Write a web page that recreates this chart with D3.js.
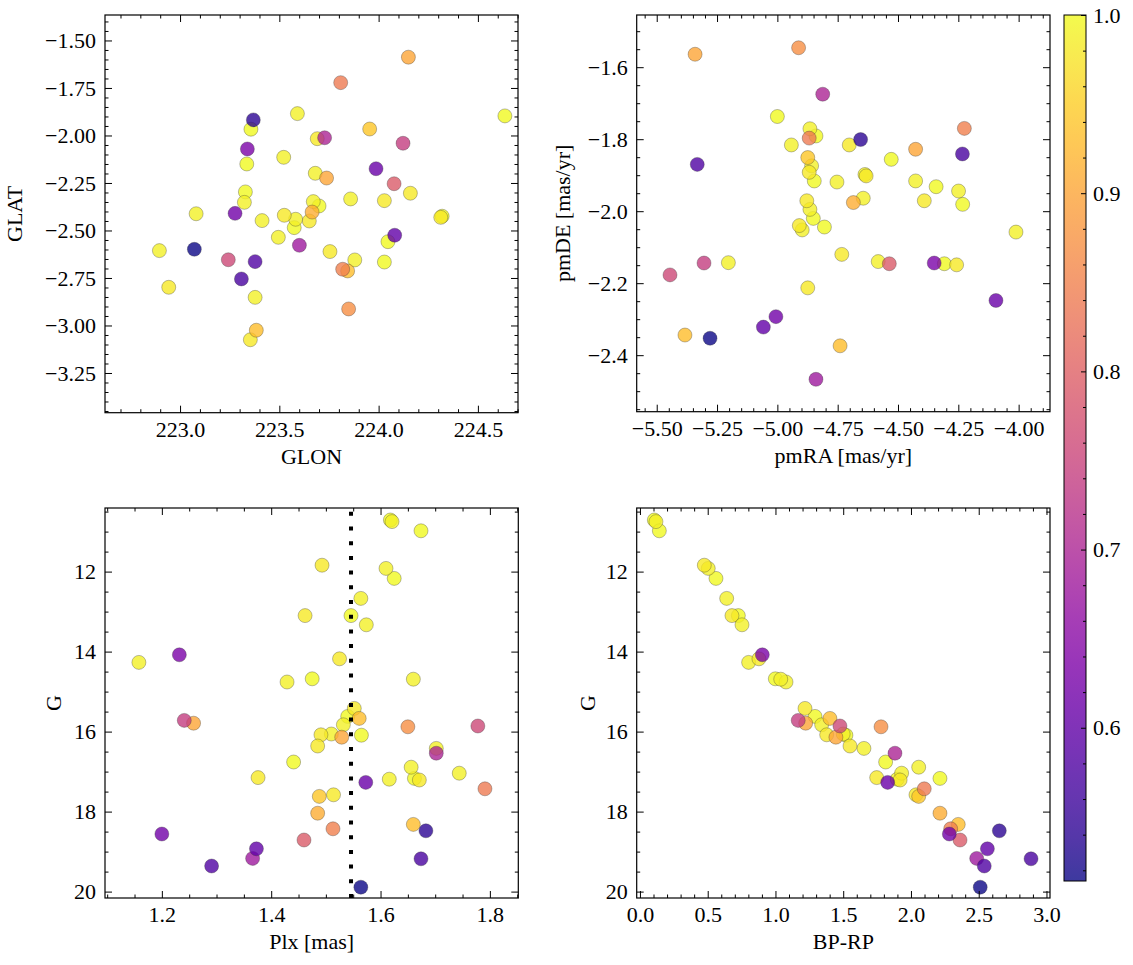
<!DOCTYPE html>
<html><head><meta charset="utf-8">
<script src="https://cdn.jsdelivr.net/npm/d3@7"></script>
<style>
body{margin:0;background:#fff}
text{font-family:"Liberation Serif","Times New Roman",Times,"DejaVu Serif",serif}
</style>
</head><body>
<svg id="c" width="1133" height="965"></svg>
<script>
// ---- data: one entry per star (31 high-probability members first, then the rest) ----
const glon = [223.357,223.591,224.636,223.691,223.522,223.336,223.681,224.160,223.329,223.324,223.859,224.029,223.671,223.700,223.081,224.313,224.320,223.413,223.525,223.582,223.575,223.651,223.495,224.047,222.896,223.755,223.880,224.029,222.943,223.378,223.354,
  223.369,223.072,223.309,223.378,223.339,223.987,223.277,224.081,223.728,223.601,224.123,223.243,224.078,223.809,223.819,223.849,224.150,223.738,223.665,223.384,223.844,223.955];
const glat = [-1.967,-1.885,-1.897,-2.017,-2.115,-2.150,-2.199,-2.304,-2.297,-2.352,-2.334,-2.343,-2.348,-2.371,-2.412,-2.431,-2.425,-2.448,-2.420,-2.441,-2.485,-2.450,-2.536,-2.559,-2.606,-2.611,-2.655,-2.666,-2.799,-2.852,-3.075,
  -1.918,-2.599,-2.755,-2.664,-2.071,-2.175,-2.410,-2.525,-2.012,-2.578,-2.041,-2.654,-2.254,-1.722,-2.704,-2.913,-1.588,-2.224,-2.403,-3.025,-2.713,-1.966];
const pmra = [-5.000,-4.865,-4.840,-4.702,-4.942,-4.528,-4.858,-4.868,-4.847,-4.753,-4.637,-4.632,-4.427,-4.342,-4.249,-4.391,-4.232,-4.644,-4.878,-4.865,-4.851,-4.909,-4.897,-4.805,-4.011,-4.733,-4.582,-4.308,-4.257,-5.203,-4.874,
  -4.655,-5.279,-4.233,-5.332,-4.350,-4.094,-5.006,-5.058,-4.812,-4.840,-5.304,-5.445,-4.536,-4.868,-4.225,-4.912,-5.341,-4.427,-4.685,-5.383,-4.740,-4.874];
const pmde = [-1.737,-1.771,-1.791,-1.816,-1.816,-1.856,-1.874,-1.892,-1.916,-1.919,-1.898,-1.902,-1.916,-1.932,-1.944,-1.971,-1.981,-1.964,-1.971,-1.995,-2.020,-2.040,-2.052,-2.044,-2.058,-2.120,-2.140,-2.146,-2.149,-2.143,-2.213,
  -1.801,-2.353,-1.841,-1.870,-2.144,-2.248,-2.293,-2.322,-1.675,-2.467,-2.144,-2.177,-2.146,-1.797,-1.770,-1.546,-1.564,-1.828,-1.976,-2.344,-2.374,-1.851];
const plx = [1.618,1.621,1.674,1.493,1.610,1.625,1.564,1.462,1.546,1.574,1.158,1.525,1.429,1.475,1.660,1.552,1.540,1.532,1.491,1.510,1.565,1.485,1.702,1.441,1.656,1.376,1.616,1.662,1.671,1.744,1.514,
  1.683,1.564,1.674,1.291,1.232,1.573,1.200,1.373,1.702,1.366,1.241,1.778,1.460,1.791,1.513,1.650,1.258,1.529,1.485,1.561,1.660,1.488];
const gmag = [10.71,10.75,10.98,11.84,11.92,12.17,12.67,13.10,13.10,13.33,14.27,14.18,14.76,14.68,14.69,15.42,15.62,15.83,16.08,16.06,16.09,16.36,16.42,16.76,16.89,17.15,17.19,17.17,17.21,17.04,17.58,
  18.48,19.89,19.18,19.36,14.08,17.27,18.56,18.93,16.54,19.17,15.72,15.86,18.71,17.43,18.43,15.88,15.79,16.14,18.04,15.67,18.32,17.62];
const bprp = [0.106,0.118,0.143,0.475,0.504,0.561,0.640,0.679,0.726,0.753,0.802,0.878,1.078,0.999,1.039,1.218,1.292,1.341,1.378,1.500,1.520,1.550,1.653,1.813,2.057,1.747,1.899,2.214,1.920,1.931,2.037,
  2.652,2.511,2.886,2.541,0.903,1.828,2.283,2.564,1.882,2.485,1.168,1.476,2.362,2.098,2.293,1.779,1.223,1.446,2.214,1.402,2.349,2.057];
const prob = [1.00,0.99,1.00,0.98,0.99,1.00,0.99,0.98,1.00,0.99,0.99,0.98,0.99,1.00,0.99,0.98,1.00,0.99,0.98,0.99,1.00,0.98,0.99,1.00,0.99,0.98,0.99,1.00,0.98,0.99,0.98,
  0.54,0.514,0.57,0.58,0.63,0.61,0.62,0.60,0.70,0.68,0.74,0.76,0.79,0.84,0.85,0.87,0.90,0.90,0.91,0.93,0.93,0.94];
const plxRef = [1.546];

// tick labels
const glonTicks = [223.0,223.5,224.0,224.5];
const glatTicks = [-3.25,-3.0,-2.75,-2.5,-2.25,-2.0,-1.75,-1.5];
const pmraTicks = [-5.5,-5.25,-5.0,-4.75,-4.5,-4.25,-4.0];
const pmdeTicks = [-2.4,-2.2,-2.0,-1.8,-1.6];
const plxTicks = [1.2,1.4,1.6,1.8];
const gTicks = [12,14,16,18,20];
const bprpTicks = [0.0,0.5,1.0,1.5,2.0,2.5,3.0];
const probTicks = [0.6,0.7,0.8,0.9,1.0];

const svg = d3.select("#c");
const FS = 22;
const stars = d3.range(prob.length).sort((a,b)=>prob[b]-prob[a]);
const color = d3.scaleSequential(d3.interpolatePlasma).domain(d3.extent(prob));

function minors(dom, step, majors){
  const lo=Math.min(...dom), hi=Math.max(...dom), out=[];
  for(let k=Math.ceil(lo/step-1e-9); k*step<=hi+1e-9; k++){
    const v=+(k*step).toFixed(6);
    if(!majors.some(m=>Math.abs(m-v)<1e-6)) out.push(v);
  }
  return out;
}

function addAxis(g, axis, tr){
  const a=g.append("g").attr("transform",tr).call(axis);
  a.select(".domain").remove();
  a.attr("font-family",null).attr("font-size",FS);
  a.selectAll("line").attr("stroke","#000").attr("stroke-width",1);
  a.selectAll("text").attr("fill","#000");
  return a;
}

function panel(p){
  const g = svg.append("g");
  const x = d3.scaleLinear().domain(p.xd).range([p.L,p.R]);
  const y = d3.scaleLinear().domain(p.yd).range(p.yr);
  const xMin = minors(p.xd,p.xs,p.xMaj), yMin = minors(p.yd,p.ys,p.yMaj);
  const none = ()=>"";
  g.append("g").selectAll("circle").data(stars).join("circle")
    .attr("cx",i=>x(p.xv[i])).attr("cy",i=>y(p.yv[i])).attr("r",7)
    .attr("fill",i=>color(prob[i])).attr("fill-opacity",0.8)
    .attr("stroke","#333").attr("stroke-opacity",0.55).attr("stroke-width",0.6);
  if(p.extra) p.extra(g,x,y);
  addAxis(g, d3.axisBottom(x).tickValues(p.xMaj).tickFormat(d3.format(p.xf)).tickSizeInner(-7).tickSizeOuter(0).tickPadding(8.5), `translate(0,${p.B})`);
  addAxis(g, d3.axisBottom(x).tickValues(xMin).tickFormat(none).tickSizeInner(-3.5).tickSizeOuter(0), `translate(0,${p.B})`);
  addAxis(g, d3.axisTop(x).tickValues(p.xMaj).tickFormat(none).tickSizeInner(-7).tickSizeOuter(0), `translate(0,${p.T})`);
  addAxis(g, d3.axisTop(x).tickValues(xMin).tickFormat(none).tickSizeInner(-3.5).tickSizeOuter(0), `translate(0,${p.T})`);
  addAxis(g, d3.axisLeft(y).tickValues(p.yMaj).tickFormat(d3.format(p.yf)).tickSizeInner(-7).tickSizeOuter(0).tickPadding(9), `translate(${p.L},0)`);
  addAxis(g, d3.axisLeft(y).tickValues(yMin).tickFormat(none).tickSizeInner(-3.5).tickSizeOuter(0), `translate(${p.L},0)`);
  addAxis(g, d3.axisRight(y).tickValues(p.yMaj).tickFormat(none).tickSizeInner(-7).tickSizeOuter(0), `translate(${p.R},0)`);
  addAxis(g, d3.axisRight(y).tickValues(yMin).tickFormat(none).tickSizeInner(-3.5).tickSizeOuter(0), `translate(${p.R},0)`);
  g.append("rect").attr("x",p.L).attr("y",p.T).attr("width",p.R-p.L).attr("height",p.B-p.T)
    .attr("fill","none").attr("stroke","#000").attr("stroke-width",1.2);
  g.append("text").attr("x",(p.L+p.R)/2).attr("y",p.B+51).attr("text-anchor","middle")
    .attr("font-size",FS).text(p.xl);
  g.append("text").attr("transform",`translate(${p.ylx},${(p.T+p.B)/2}) rotate(-90)`).attr("text-anchor","middle")
    .attr("font-size",FS).text(p.yl);
}

panel({L:105,R:518,T:15,B:412.7,xd:[222.622,224.702],yd:[-3.459,-1.366],yr:[412.7,15],
  xv:glon,yv:glat,xMaj:glonTicks,xs:0.1,yMaj:glatTicks,ys:0.05,xf:".1f",yf:".2f",xl:"GLON",yl:"GLAT",ylx:22});
panel({L:636.7,R:1050,T:15,B:411.7,xd:[-5.583,-3.870],yd:[-2.557,-1.455],yr:[411.7,15],
  xv:pmra,yv:pmde,xMaj:pmraTicks,xs:0.05,yMaj:pmdeTicks,ys:0.05,xf:".2f",yf:".1f",xl:"pmRA [mas/yr]",yl:"pmDE [mas/yr]",ylx:570});
panel({L:105,R:518.3,T:508,B:898,xd:[1.096,1.852],yd:[10.41,20.16],yr:[508,898],
  xv:plx,yv:gmag,xMaj:plxTicks,xs:0.05,yMaj:gTicks,ys:0.5,xf:".1f",yf:"d",xl:"Plx [mas]",yl:"G",ylx:61,
  extra:(g,x,y)=>{
    g.selectAll("line.ref").data(plxRef).join("line").attr("class","ref")
      .attr("x1",d=>x(d)).attr("x2",d=>x(d)).attr("y1",898).attr("y2",508)
      .attr("stroke","#000").attr("stroke-width",4).attr("stroke-dasharray","4,10.7");
  }});
panel({L:636.7,R:1050,T:508,B:898,xd:[-0.024,3.026],yd:[10.41,20.16],yr:[508,898],
  xv:bprp,yv:gmag,xMaj:bprpTicks,xs:0.1,yMaj:gTicks,ys:0.5,xf:".1f",yf:"d",xl:"BP-RP",yl:"G",ylx:595});

// colorbar
const cb = {L:1064,R:1086,T:15,B:881};
const cy = d3.scaleLinear().domain(color.domain()).range([cb.B,cb.T]);
const defs = svg.append("defs");
const grad = defs.append("linearGradient").attr("id","cbg").attr("x1",0).attr("y1",1).attr("x2",0).attr("y2",0);
grad.selectAll("stop").data(d3.range(0,1.0001,0.05)).join("stop")
  .attr("offset",d=>d).attr("stop-color",d=>d3.interpolatePlasma(d));
const cg = svg.append("g");
cg.append("rect").attr("x",cb.L).attr("y",cb.T).attr("width",cb.R-cb.L).attr("height",cb.B-cb.T)
  .attr("fill","url(#cbg)").attr("fill-opacity",0.8);
const cbMin = minors(color.domain(),0.02,probTicks);
addAxis(cg, d3.axisRight(cy).tickValues(probTicks).tickFormat(d3.format(".1f")).tickSizeInner(-5).tickSizeOuter(0).tickPadding(7), `translate(${cb.R},0)`);
addAxis(cg, d3.axisRight(cy).tickValues(cbMin).tickFormat(()=>"").tickSizeInner(-3).tickSizeOuter(0), `translate(${cb.R},0)`);
cg.append("rect").attr("x",cb.L).attr("y",cb.T).attr("width",cb.R-cb.L).attr("height",cb.B-cb.T)
  .attr("fill","none").attr("stroke","#000").attr("stroke-width",1);
</script>
</body></html>
